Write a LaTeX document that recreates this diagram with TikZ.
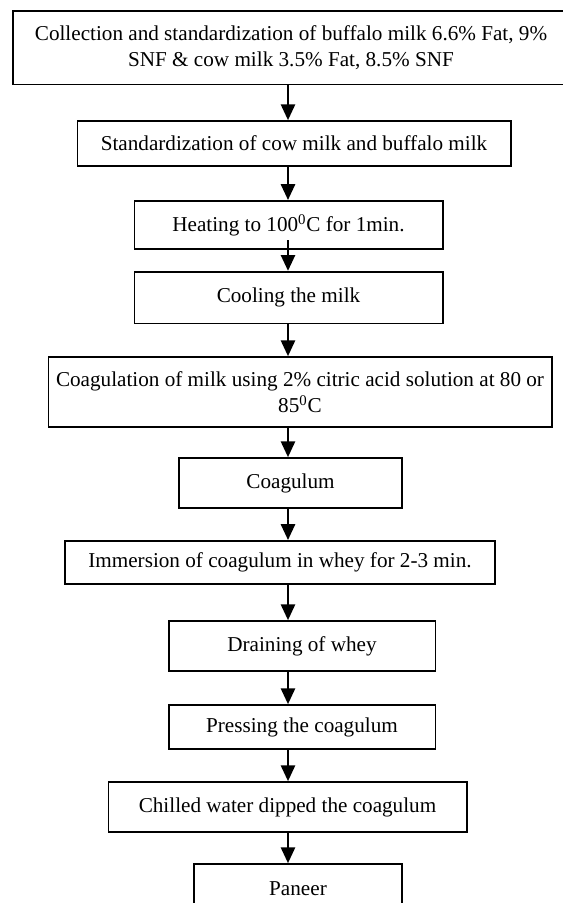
\documentclass[tikz,border=0pt]{standalone}
\usepackage{fontspec}
\setmainfont{Liberation Serif}
\usetikzlibrary{arrows.meta}

\begin{document}
\begin{tikzpicture}[x=0.6pt, y=-0.6pt,
  box/.style={draw, line width=1pt, inner sep=0pt, align=center,
    font=\fontsize{12.7}{15.5}\selectfont},
  arr/.style={line width=1.3pt, -{Triangle[width=8.5pt,length=9.5pt]}}]
  \clip (0,0) rectangle (563,903);
  \coordinate (col) at (288,0);
  \node[box, minimum width=334pt, minimum height=44pt] (coll) at (291,48)
    {Collection and standardization of buffalo milk 6.6\% Fat, 9\%\\
     SNF \& cow milk 3.5\% Fat, 8.5\% SNF};
  \node[box, minimum width=260pt, minimum height=27pt] (std) at (294,143.5)
    {Standardization of cow milk and buffalo milk};
  \node[box, minimum width=185pt, minimum height=29pt] (heat) at (288.5,225)
    {Heating to 100\textsuperscript{0}C for 1min.};
  \node[box, minimum width=185pt, minimum height=31pt] (cool) at (288.5,297.5)
    {Cooling the milk};
  \node[box, minimum width=302pt, minimum height=42pt] (coag) at (300,392)
    {Coagulation of milk using 2\% citric acid solution at 80 or\\
     85\textsuperscript{0}C};
  \node[box, minimum width=134pt, minimum height=30pt] (curd) at (290.5,483)
    {Coagulum};
  \node[box, minimum width=258pt, minimum height=26pt] (imm) at (280,562.5)
    {Immersion of coagulum in whey for 2-3 min.};
  \node[box, minimum width=160pt, minimum height=30pt] (drain) at (302,646)
    {Draining of whey};
  \node[box, minimum width=160pt, minimum height=26.4pt] (press) at (302,727)
    {Pressing the coagulum};
  \node[box, minimum width=215pt, minimum height=30pt] (chill) at (287.5,807)
    {Chilled water dipped the coagulum};
  \node[box, minimum width=125pt, minimum height=30pt] (paneer) at (298,889)
    {Paneer};

  \draw[arr] (coll.south -| col) -- (std.north -| col);
  \draw[arr] (std.south -| col) -- (heat.north -| col);
  \draw[arr] ([yshift=6pt]heat.south -| col) -- (cool.north -| col);
  \draw[arr] (cool.south -| col) -- (coag.north -| col);
  \draw[arr] (coag.south -| col) -- (curd.north -| col);
  \draw[arr] (curd.south -| col) -- (imm.north -| col);
  \draw[arr] (imm.south -| col) -- (drain.north -| col);
  \draw[arr] (drain.south -| col) -- (press.north -| col);
  \draw[arr] (press.south -| col) -- (chill.north -| col);
  \draw[arr] (chill.south -| col) -- (paneer.north -| col);
\end{tikzpicture}
\end{document}
